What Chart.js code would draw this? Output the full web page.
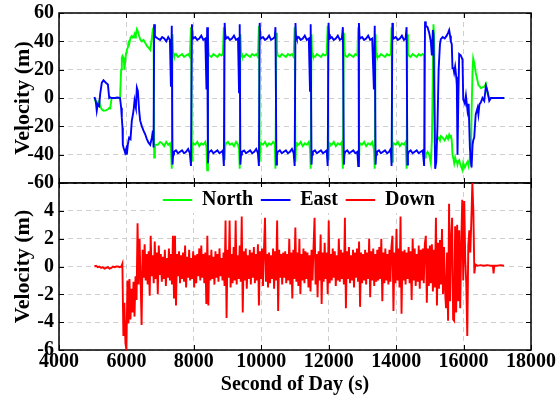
<!DOCTYPE html>
<html>
<head>
<meta charset="utf-8">
<script src="https://cdn.jsdelivr.net/npm/chart.js@4.4.1/dist/chart.umd.min.js"></script>
<style>
  html, body { margin: 0; padding: 0; background: #fff; }
  #wrap { position: relative; width: 557px; height: 401px; overflow: hidden; background: #fff; }
  canvas { position: absolute; }
</style>
</head>
<body>
<div id="wrap">
  <canvas id="topChart" width="557" height="200" style="left:0;top:0;width:557px;height:200px"></canvas>
  <canvas id="bottomChart" width="557" height="231" style="left:0;top:170px;width:557px;height:231px"></canvas>
  <canvas id="legendChart" width="300" height="100" style="left:149px;top:182px;width:300px;height:100px"></canvas>
</div>
<script>
// ---- Horizontal velocity (upper panel): shared time stamps, North and East components ----
const topTime = [
  5050, 5090, 5120, 5150, 5190, 5220, 5270, 5320, 5390, 5450, 5490, 5520, 5560, 5650, 5740, 5810,
  5843, 5863, 5883, 5893, 5913, 5943, 5962, 5992, 6012, 6041, 6062, 6081, 6121, 6160, 6190, 6210,
  6240, 6260, 6280, 6309, 6339, 6378, 6408, 6458, 6507, 6557, 6606, 6656, 6705, 6755, 6785, 6805,
  6823, 6845, 6870,
  6930, 7000, 7060, 7120, 7180, 7240, 7290, 7320, 7345, 7367, 7385, 7410,
  7470, 7530, 7590, 7650, 7710, 7770, 7830, 7880, 7915, 7943, 7960, 7985,
  8040, 8100, 8160, 8220, 8280, 8340, 8375, 8395, 8418, 8435, 8460,
  8520, 8580, 8640, 8700, 8760, 8820, 8860, 8890, 8914, 8930, 8955,
  9010, 9070, 9130, 9190, 9250, 9310, 9340, 9360, 9380, 9400, 9425,
  9490, 9550, 9610, 9670, 9730, 9790, 9850, 9900, 9930, 9953, 9970, 9995,
  10050, 10110, 10170, 10230, 10290, 10350, 10400, 10420, 10449, 10465, 10490,
  10550, 10610, 10670, 10730, 10790, 10850, 10910, 10960, 10990, 11014, 11030, 11055,
  11110, 11170, 11230, 11290, 11350, 11410, 11445, 11465, 11490, 11505, 11530,
  11590, 11650, 11710, 11770, 11830, 11890, 11940, 11970, 11995, 12010, 12035,
  12090, 12150, 12210, 12270, 12330, 12390, 12420, 12450, 12465, 12490,
  12550, 12610, 12670, 12730, 12790, 12850, 12875, 12896, 12912, 12935,
  12990, 13050, 13110, 13170, 13230, 13290, 13340, 13365, 13391, 13405, 13430,
  13490, 13550, 13610, 13670, 13730, 13790, 13840, 13865, 13888, 13905, 13930,
  13990, 14050, 14110, 14170, 14230, 14280, 14310, 14333, 14350, 14375,
  14430, 14490, 14550, 14610, 14670, 14730, 14790, 14830, 14857, 14880,
  14930, 14980, 15028, 15060, 15090, 15107, 15130, 15157, 15190, 15226, 15260, 15300,
  15325, 15380, 15440, 15500, 15540, 15573, 15600, 15622, 15650, 15671, 15700, 15721,
  15750, 15782, 15800, 15820, 15845, 15870, 15920, 15969, 15990, 16039, 16070, 16118,
  16150, 16187, 16217, 16237, 16267, 16286, 16316, 16360, 16415, 16440, 16470, 16514,
  16560, 16613, 16663, 16712, 16762, 16811, 16900, 17000, 17100, 17208
];
const northVel = [
  0, -3, -4.5, -3, -2, -5.6, -8, -9, -8.7, -8, -7, -7.3, 0, 0, 0, 0,
  20, 28.5, 29.6, 29, 28.5, 20, 26, 32, 34, 35.5, 39, 38, 42.6, 43.8, 42.6, 43,
  45, 42.6, 45, 48.5, 47, 43.8, 41.4, 40, 41, 39, 36.7, 35.5, 34, 42.6, 48.5, 49.6,
  -42, -34, -33,
  -33, -31, -32, -34, -31, -33, -32, -36, -50, 45, 32, 30,
  31, 29, 30, 31, 29, 30, 31, 29, 50, -45, -34, -32,
  -33, -31, -34, -32, -33, -31, -35, -51, 44, 32, 30,
  29, 31, 30, 29, 31, 30, 31, 50, -44, -34, -32,
  -31, -33, -32, -34, -31, -33, -36, -50, 45, 32, 30,
  29, 31, 30, 29, 31, 30, 31, 29, 51, -45, -34, -32,
  -33, -31, -34, -32, -33, -31, -32, -50, 46, 33, 30,
  29, 31, 30, 29, 31, 30, 31, 29, 50, -45, -34, -32,
  -33, -31, -34, -32, -33, -31, -36, -50, 45, 32, 30,
  29, 31, 30, 29, 31, 30, 31, 51, -44, -34, -32,
  -33, -31, -34, -32, -33, -31, -50, 46, 33, 30,
  29, 31, 30, 29, 31, 30, 50, -45, -34, -32,
  -33, -31, -34, -32, -33, -31, -36, -50, 45, 32, 30,
  29, 31, 30, 29, 31, 30, 31, 50, -45, -34, -32,
  -33, -31, -34, -32, -33, -31, -50, 45, 32, 30,
  29, 31, 30, 29, 31, 30, 31, 30, -42, -40,
  -38, -40, -46, -30, 20, 52, 40, -28, -30, -29, -28, -30,
  -27, -28, -30, -27, -29, -26, -28, -26, -30, -40, -43, -46,
  -42, -45, -44, -47, -45, -44, -48, -51, -46, -49, -47, -45,
  -48, -42, -45, -10, 20, 28, 25, 18, 12, 9, 8.5, 7,
  7.5, 8, 10, 3, 0, 0, 0, 0, 0, 0
];
const eastVel = [
  0.7, -2, -9, -4.5, -5.6, 2.6, 10.8, 12.5, 10.8, 9.6, 0, 0.5, 0, 0, 0.3, 0,
  -6.8, -14, -21, -33, -35, -37, -38.6, -36, -40, -33, -30, -28, -29, -16, -12, -9,
  -2, -5, -7, 7.3, 5, -9, -16, -20, -23, -25.6, -29, -31.5, -33, -28, -23, -35,
  52, 44, 43,
  42, 41, 43, 42, 40, 43, 41, 8, 51, -47, -40, -38,
  -37, -39, -38, -37, -39, -38, -36, -39, -48, 52, 44, 42,
  43, 41, 42, 44, 41, 42, 6, 50, -46, -39, -38,
  -37, -39, -38, -37, -39, -38, -37, -48, 53, 45, 42,
  43, 41, 42, 44, 41, 42, 4, 52, -47, -40, -38,
  -37, -39, -38, -37, -39, -38, -36, -39, -48, 53, 44, 42,
  43, 41, 42, 44, 41, 42, 43, 50, -47, -40, -38,
  -37, -39, -38, -37, -39, -38, -36, -39, -48, 53, 44, 42,
  43, 41, 42, 44, 41, 42, 5, 52, -47, -40, -38,
  -37, -39, -38, -37, -39, -38, -37, -48, 53, 45, 42,
  43, 41, 42, 44, 41, 42, 50, -47, -40, -38,
  -37, -39, -38, -37, -39, -38, -48, 53, 44, 42,
  43, 41, 42, 44, 41, 42, 6, 51, -47, -40, -38,
  -37, -39, -38, -37, -39, -38, -36, -48, 53, 44, 42,
  43, 41, 42, 44, 41, 42, 50, -47, -40, -38,
  -37, -39, -38, -37, -39, -38, -37, -48, 54, 51,
  50, 46, 40, 30, 48, 45, 0, -50, -45, -20, 20, 38,
  41.6, 43, 42, 44, 46, 48, 44, 40, 38, 21, 21, 18,
  22, 15, 9, -40, 0, 31, 30, 27, -1, -4, 1.6, -9,
  -4, -35, -45, -49, -33, -30, -28, -11.6, -7, -11.6, -4.5, -3,
  0, -2, 8.5, 4.6, -2, 0, 0, 0, 0, 0
];

// ---- Vertical velocity (lower panel) ----
const downTime = [
  5050, 5100, 5150, 5200, 5250, 5300, 5350, 5400, 5450, 5500, 5550, 5600, 5650, 5700, 5750, 5800, 5850,
  5880, 5910, 5940, 5970, 6000, 6030, 6060, 6090, 6120, 6150, 6180, 6210, 6240, 6270, 6300, 6330, 6360, 6390, 6420, 6450,
  6480, 6510, 6540, 6570, 6600, 6630, 6660, 6690, 6720, 6750, 6780, 6810, 6840, 6870, 6900, 6930, 6960, 6990, 7020, 7050,
  7080, 7110, 7140, 7170, 7200, 7230, 7260, 7290, 7320, 7350, 7380, 7410, 7440, 7470, 7500, 7530, 7560, 7590, 7620, 7650,
  7680, 7710, 7740, 7770, 7800, 7830, 7860, 7890, 7920, 7950, 7980, 8010, 8040, 8070, 8100, 8130, 8160, 8190, 8220, 8250,
  8280, 8310, 8340, 8370, 8400, 8430, 8460, 8490, 8520, 8550, 8580, 8610, 8640, 8670, 8700, 8730, 8760, 8790, 8820, 8850,
  8880, 8910, 8940, 8970, 9000, 9030, 9060, 9090, 9120, 9150, 9180, 9210, 9240, 9270, 9300, 9330, 9360, 9390, 9420, 9450,
  9480, 9510, 9540, 9570, 9600, 9630, 9660, 9690, 9720, 9750, 9780, 9810, 9840, 9870, 9900, 9930, 9960, 9990, 10020, 10050,
  10080, 10110, 10140, 10170, 10200, 10230, 10260, 10290, 10320, 10350, 10380, 10410, 10440, 10470, 10500, 10530, 10560, 10590, 10620, 10650,
  10680, 10710, 10740, 10770, 10800, 10830, 10860, 10890, 10920, 10950, 10980, 11010, 11040, 11070, 11100, 11130, 11160, 11190, 11220, 11250,
  11280, 11310, 11340, 11370, 11400, 11430, 11460, 11490, 11520, 11550, 11580, 11610, 11640, 11670, 11700, 11730, 11760, 11790, 11820, 11850,
  11880, 11910, 11940, 11970, 12000, 12030, 12060, 12090, 12120, 12150, 12180, 12210, 12240, 12270, 12300, 12330, 12360, 12390, 12420, 12450,
  12480, 12510, 12540, 12570, 12600, 12630, 12660, 12690, 12720, 12750, 12780, 12810, 12840, 12870, 12900, 12930, 12960, 12990, 13020, 13050,
  13080, 13110, 13140, 13170, 13200, 13230, 13260, 13290, 13320, 13350, 13380, 13410, 13440, 13470, 13500, 13530, 13560, 13590, 13620, 13650,
  13680, 13710, 13740, 13770, 13800, 13830, 13860, 13890, 13920, 13950, 13980, 14010, 14040, 14070, 14100, 14130, 14160, 14190, 14220, 14250,
  14280, 14310, 14340, 14370, 14400, 14430, 14460, 14490, 14520, 14550, 14580, 14610, 14640, 14670, 14700, 14730, 14760, 14790, 14820, 14850,
  14880, 14910, 14940, 14970, 15000, 15030, 15060, 15090, 15120, 15150, 15180, 15210, 15240, 15270, 15300, 15330, 15360, 15390, 15420, 15450,
  15480, 15510, 15540, 15570, 15600, 15630, 15660, 15690, 15720, 15750, 15780, 15810, 15840, 15870, 15900, 15930, 15960, 15990, 16020, 16050,
  16080, 16110, 16140, 16170, 16200, 16230, 16260, 16290, 16320, 16350, 16380, 16410,
  16500, 16600, 16700, 16800, 16870, 16890, 16910, 17000, 17100, 17200
];
const downVel = [
  0.0, 0.05, -0.05, 0.0, -0.1, -0.05, -0.15, -0.1, -0.05, -0.15, -0.1, 0.0, -0.05, 0.0, 0.0, -0.05, 0.0,
  0.2, -5.0, -2.6, -5.5, -6.0, -1.0, -4.1, -0.9, -3.8, -1.6, -3.3, -1.1, -3.6, -0.7, -2.4, 3.1, -1.3, 2.0, -0.9, -4.2,
  1.2, -0.8, 1.6, -1.0, 0.9, -1.3, 1.1, -2.1, 2.2, -0.7, 0.8, -1.2, 1.8, -0.9, 1.0, -2.0, 1.5, -0.6, 0.9, -1.1,
  0.7, -0.9, 1.2, -1.4, 0.6, -0.8, 1.3, -1.0, 0.9, -1.3, 2.2, -2.3, 2.2, -2.8, 0.9, -0.7, 1.1, -1.2, 0.8, -0.9,
  1.0, -1.1, 1.5, -1.5, 0.7, -0.8, 1.2, -1.0, 0.6, -0.9, 1.1, -1.5, 0.8, -1.2, 0.9, -0.7, 1.3, -1.0, 1.5, -0.8,
  0.9, -1.2, 1.0, -2.7, 2.2, -2.8, 0.8, -1.0, 1.2, -0.9, 0.7, -1.3, 1.1, -0.8, 0.9, -1.1, 1.3, -0.7, 0.6, -1.0,
  1.0, -1.4, 3.3, -3.7, 1.2, -0.8, 3.3, -1.5, 0.9, -1.2, 1.4, -1.0, 3.3, -1.3, 0.8, -0.9, 1.5, -1.1, 3.6, -3.3,
  1.1, -1.0, 1.3, -1.6, 0.8, -0.9, 1.2, -1.3, 1.0, -0.8, 1.4, -1.2, 0.9, -1.0, 1.6, -2.8, 1.1, -0.9, 1.3, -1.4,
  1.2, 3.5, -1.1, 0.9, -1.5, 1.0, -1.2, 0.8, -0.9, 1.3, -1.6, 1.1, -1.0, 3.3, -3.2, 1.2, -0.8, 0.9, -1.3, 1.0,
  -0.8, 1.1, -1.2, 0.9, -1.0, 2.0, -1.3, 1.0, -2.3, 1.2, -0.9, 2.8, -1.1, 1.0, -1.4, 2.0, -2.0, 0.9, -1.0, 1.3,
  -1.2, 1.1, -0.9, 1.0, -1.5, 0.8, -1.8, 1.2, -1.0, 1.4, 3.5, -1.3, 0.9, -2.2, 1.1, -1.0, 2.3, -2.7, 1.0, -1.1,
  1.7, -0.9, 1.0, -2.0, 3.3, -1.2, 0.9, -1.0, 1.3, -0.8, 1.1, -1.4, 0.8, -1.0, 2.0, -1.1, 1.2, -0.9, 1.0, -1.3,
  3.5, -3.0, 1.1, -0.9, 1.4, -1.2, 0.8, -1.0, 1.2, -1.5, 1.0, -0.8, 1.3, -1.1, 1.8, -2.9, 1.0, -1.2, 0.9, -1.0,
  1.2, -1.3, 1.0, -0.9, 2.0, -2.2, 1.1, -1.0, 1.3, -1.4, 0.9, -1.1, 1.2, -1.0, 1.4, -0.9, 2.0, -2.5, 1.0, -1.2,
  1.3, -1.0, 0.9, -1.3, 1.2, -1.1, 1.4, 2.2, -3.2, 1.0, -1.2, 2.7, -1.0, 1.3, -1.5, 3.6, -3.4, 1.1, -1.0, 1.2,
  -1.3, 1.0, -0.9, 1.4, -1.2, 1.1, -2.4, 2.0, -1.0, 1.3, -1.4, 0.9, -1.1, 1.5, -1.6, 1.2, -1.0, 1.3, -1.2, 1.6,
  2.2, -2.6, 1.3, -1.4, 1.5, -1.2, 1.6, -1.8, 1.2, -1.5, 3.5, -2.8, 1.7, -1.6, 1.9, -1.3, 2.7, -2.0, 1.4, -1.7,
  -3.0, 1.0, -3.9, 4.5, -2.5, 2.0, 3.5, -3.8, -3.9, 2.9, -3.3, 3.0, -2.5, 2.6, -3.0, 1.5, 4.8, -1.0, 4.7, 0.5,
  -1.2, -5.0, 1.5, 2.6, 1.0, 3.3, 6.0, 4.0, -0.5, 0.15, 0.1, 0.05,
  0.1, 0.05, 0.1, 0.05, 0.05, -0.5, 0.05, 0.05, 0.1, 0.05
];

// Axis ranges and tick steps
const xRange = [4000, 18000];
const xStep = 2000;
const horizRange = [-60, 60];
const horizStep = 20;
const vertRange = [-6, 6];
const vertStep = 2;

const seriesNames = ['North', 'East', 'Down'];
const GREEN = '#00ff00', BLUE = '#0000ff', RED = '#ff0000';
const GRID = '#cfcfcf';
const FAMILY = "'Liberation Serif', 'Times New Roman', serif";
const tickFont = { family: FAMILY, size: 20, weight: 'bold' };
const titleFont = { family: FAMILY, size: 22, weight: 'bold' };
const xTitleFont = { family: FAMILY, size: 20, weight: 'bold' };

const toPoints = (xs, ys) => xs.map((x, i) => ({ x: x, y: ys[i] }));

// Box frame plus short inward tick marks on all four sides
const framePlugin = {
  id: 'frame',
  beforeDatasetsDraw(chart) {
    const { ctx, chartArea: a, scales } = chart;
    ctx.save();
    ctx.setLineDash([]);
    ctx.strokeStyle = '#000';
    ctx.lineWidth = 1;
    const L = 5;
    ctx.beginPath();
    scales.x.ticks.forEach(t => {
      const px = Math.round(scales.x.getPixelForValue(t.value)) + 0.5;
      ctx.moveTo(px, a.top); ctx.lineTo(px, a.top + L);
      ctx.moveTo(px, a.bottom); ctx.lineTo(px, a.bottom - L);
    });
    scales.y.ticks.forEach(t => {
      const py = Math.round(scales.y.getPixelForValue(t.value)) + 0.5;
      ctx.moveTo(a.left, py); ctx.lineTo(a.left + L, py);
      ctx.moveTo(a.right, py); ctx.lineTo(a.right - L, py);
    });
    ctx.stroke();
    ctx.lineWidth = 1.5;
    ctx.strokeRect(a.left, a.top, a.right - a.left, a.bottom - a.top);
    ctx.restore();
  }
};

function xScale(showLabels, height) {
  return {
    type: 'linear', min: xRange[0], max: xRange[1],
    ticks: {
      display: showLabels, stepSize: xStep, autoSkip: false, maxRotation: 0, minRotation: 0,
      align: 'center', font: tickFont, color: '#000', padding: 0,
      callback: v => String(v)
    },
    grid: { color: GRID, lineWidth: 1, drawTicks: false },
    border: { display: false, dash: [5, 4] },
    title: showLabels ? {
      display: true, text: 'Second of Day (s)', font: xTitleFont, color: '#000',
      padding: { top: 0, bottom: 4 }
    } : { display: false },
    afterFit: s => { s.height = height; s.paddingLeft = 0; s.paddingRight = 0; }
  };
}

function yScale(range, step, hideTop) {
  return {
    type: 'linear', min: range[0], max: range[1],
    ticks: {
      stepSize: step, font: tickFont, color: '#000', padding: 5,
      callback: v => (hideTop && v === range[1]) ? '' : String(v)
    },
    grid: { color: GRID, lineWidth: 1, drawTicks: false },
    border: { display: false, dash: [5, 4] },
    title: {
      display: true, text: 'Velocity (m)', font: titleFont, color: '#000',
      padding: { top: 10, bottom: 0 }
    },
    afterFit: s => { s.width = 59; s.paddingTop = 0; s.paddingBottom = 0; }
  };
}

const common = {
  responsive: false,
  animation: false,
  devicePixelRatio: 1,
  events: [],
  elements: { point: { radius: 0 }, line: { borderWidth: 1.9, tension: 0 } }
};

// Upper panel: North and East
new Chart(document.getElementById('topChart'), {
  type: 'line',
  data: {
    datasets: [
      { label: seriesNames[0], data: toPoints(topTime, northVel), borderColor: GREEN, backgroundColor: GREEN, order: 2, clip: 2 },
      { label: seriesNames[1], data: toPoints(topTime, eastVel), borderColor: BLUE, backgroundColor: BLUE, order: 1, clip: 2 }
    ]
  },
  options: Object.assign({}, common, {
    layout: { padding: { left: 0, right: 26, top: 13, bottom: 0 } },
    plugins: { legend: { display: false }, tooltip: { enabled: false } },
    scales: { x: xScale(false, 17), y: yScale(horizRange, horizStep, false) }
  }),
  plugins: [framePlugin]
});

// Lower panel: Down
new Chart(document.getElementById('bottomChart'), {
  type: 'line',
  data: {
    datasets: [
      { label: seriesNames[2], data: toPoints(downTime, downVel), borderColor: RED, backgroundColor: RED, clip: 3 }
    ]
  },
  options: Object.assign({}, common, {
    layout: { padding: { left: 0, right: 26, top: 13, bottom: 0 } },
    plugins: { legend: { display: false }, tooltip: { enabled: false } },
    scales: { x: xScale(true, 51), y: yScale(vertRange, vertStep, true) }
  }),
  plugins: [framePlugin]
});

// Legend box sitting inside the lower panel, on a white background
const legendBackground = {
  id: 'legendBackground',
  beforeDraw(chart) {
    const lg = chart.legend;
    if (!lg || !lg.legendHitBoxes || !lg.legendHitBoxes.length) return;
    const boxes = lg.legendHitBoxes;
    const left = Math.min(...boxes.map(b => b.left)) - 4;
    const right = Math.max(...boxes.map(b => b.left + b.width)) + 4;
    const top = Math.min(...boxes.map(b => b.top)) - 3;
    const bottom = Math.max(...boxes.map(b => b.top + b.height)) + 3;
    const ctx = chart.ctx;
    ctx.save();
    ctx.fillStyle = '#fff';
    ctx.fillRect(left, top, right - left, bottom - top);
    ctx.restore();
  }
};

new Chart(document.getElementById('legendChart'), {
  type: 'line',
  data: {
    datasets: [
      { label: seriesNames[0], data: [], borderColor: GREEN, backgroundColor: GREEN, borderWidth: 1 },
      { label: seriesNames[1], data: [], borderColor: BLUE, backgroundColor: BLUE, borderWidth: 1 },
      { label: seriesNames[2], data: [], borderColor: RED, backgroundColor: RED, borderWidth: 1 }
    ]
  },
  options: Object.assign({}, common, {
    layout: { padding: 0 },
    scales: { x: { display: false }, y: { display: false } },
    plugins: {
      tooltip: { enabled: false },
      legend: {
        display: true, position: 'top', align: 'center',
        labels: { boxWidth: 29, boxHeight: 1, padding: 8, color: '#000', font: { family: FAMILY, size: 20, weight: 'bold' } }
      }
    }
  }),
  plugins: [legendBackground]
});
</script>
</body>
</html>
